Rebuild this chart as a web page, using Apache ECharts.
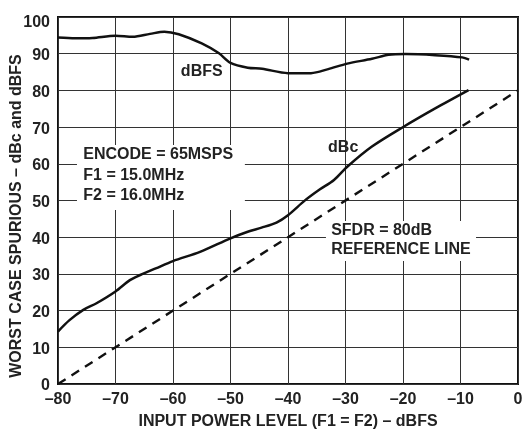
<!DOCTYPE html>
<html>
<head>
<meta charset="utf-8">
<script src="https://cdn.jsdelivr.net/npm/echarts@6/dist/echarts.min.js"></script>
<style>html,body{margin:0;padding:0;background:#fff}#c{width:524px;height:429px}</style>
</head>
<body>
<div id="c"></div>
<script>
var dbfsX = [-80, -77, -74, -70, -67, -64, -61.5, -59, -55, -52, -50, -47, -44.5, -40, -36, -33, -29.7, -25.4, -22.5, -19.6, -14.4, -9.7, -8.5];
var dbfsY = [94.4, 94.2, 94.3, 94.9, 94.6, 95.4, 96.0, 95.3, 92.8, 90.1, 87.5, 86.2, 85.9, 84.7, 84.7, 85.8, 87.3, 88.6, 89.7, 89.9, 89.6, 89.0, 88.4];
var dbcX = [-80, -78, -75.6, -73.3, -70, -67.5, -65.7, -63, -60, -55.3, -50, -47, -44.6, -42, -40, -37, -34.5, -32, -29.7, -25.4, -19.9, -14.4, -8.6];
var dbcY = [14.3, 17.4, 20.2, 22.0, 25.2, 28.3, 29.7, 31.5, 33.5, 36.0, 39.7, 41.5, 42.6, 44.0, 46.0, 50.1, 53.0, 55.6, 59.2, 64.7, 70.1, 75.1, 80.1];
var refX = [-80, 0];
var refY = [0, 80];
var xTicks = [-80, -70, -60, -50, -40, -30, -20, -10, 0];
var yTicks = [0, 10, 20, 30, 40, 50, 60, 70, 80, 90, 100];

function pairs(xs, ys) { return xs.map(function (x, i) { return [x, ys[i]]; }); }
var FONT = '"Liberation Sans", Arial, sans-serif';
var FS = 16;
var chart = echarts.init(document.getElementById('c'));
var option = {
  animation: false,
  grid: { left: 58, right: 6, top: 17, bottom: 45, show: true, borderColor: '#111', borderWidth: 2, backgroundColor: 'transparent', outerBoundsMode: 'none', containLabel: false },
  xAxis: {
    type: 'value', min: -80, max: 0, interval: 10,
    name: 'INPUT POWER LEVEL (F1 = F2) – dBFS', nameLocation: 'middle', nameGap: 30, nameMoveOverlap: false,
    nameTextStyle: { fontFamily: FONT, fontWeight: 'bold', fontSize: FS, color: '#222' },
    axisLine: { show: false }, axisTick: { show: false },
    axisLabel: { fontFamily: FONT, fontWeight: 'bold', fontSize: FS, color: '#222', margin: 8,
      formatter: function (v) { return String(v).replace('-', '–'); } },
    splitLine: { show: true, lineStyle: { color: '#333', width: 1 } }
  },
  yAxis: {
    type: 'value', min: 0, max: 100, interval: 10,
    name: 'WORST CASE SPURIOUS – dBc and dBFS', nameLocation: 'middle', nameGap: 33, nameMoveOverlap: false,
    nameTextStyle: { fontFamily: FONT, fontWeight: 'bold', fontSize: FS, color: '#222', padding: [0, 31, 0, 0] },
    axisLine: { show: false }, axisTick: { show: false },
    axisLabel: { fontFamily: FONT, fontWeight: 'bold', fontSize: FS, color: '#222', margin: 8, padding: [4, 0, 0, 0],
      formatter: function (v) { return v === 100 ? '{top|' + v + '}' : String(v); },
      rich: { top: { fontFamily: FONT, fontWeight: 'bold', fontSize: FS, color: '#222', padding: [7, 0, 0, 0] } } },
    splitLine: { show: true, lineStyle: { color: '#333', width: 1 } }
  },
  series: [
    { name: 'dBFS', type: 'line', data: pairs(dbfsX, dbfsY), smooth: 0.3, showSymbol: false, lineStyle: { color: '#111', width: 2.5 }, z: 5 },
    { name: 'dBc', type: 'line', data: pairs(dbcX, dbcY), smooth: 0.3, showSymbol: false, lineStyle: { color: '#111', width: 2.5 }, z: 5 },
    { name: 'ref', type: 'line', data: pairs(refX, refY), showSymbol: false, lineStyle: { color: '#111', width: 2.4, type: [9, 7] }, z: 5 }
  ]
};
chart.setOption(option);

function px(x, y) { return chart.convertToPixel({ gridIndex: 0 }, [x, y]); }
var tStyle = { fontFamily: FONT, fontWeight: 'bold', fontSize: FS, fill: '#222' };
function box(x0, y0, x1, y1) {
  var a = px(x0, y0), b = px(x1, y1);
  return { type: 'rect', shape: { x: a[0], y: a[1], width: b[0] - a[0], height: b[1] - a[1] }, style: { fill: '#fff' }, z: 3, silent: true };
}
function txt(x, y, s, align) {
  var p = px(x, y);
  return { type: 'text', x: p[0], y: p[1], style: Object.assign({ text: s, align: align || 'left', verticalAlign: 'middle' }, tStyle), z: 6, silent: true };
}
chart.setOption({
  graphic: [
    box(-76.7, 65.1, -47.5, 47.4),
    box(-33.4, 44.4, -7.3, 33.5),
    txt(-75.6, 62.5, 'ENCODE = 65MSPS'),
    txt(-75.6, 56.8, 'F1 = 15.0MHz'),
    txt(-75.6, 51.3, 'F2 = 16.0MHz'),
    txt(-32.5, 41.7, 'SFDR = 80dB'),
    txt(-32.5, 36.5, 'REFERENCE LINE'),
    txt(-55.0, 85.1, 'dBFS', 'center'),
    txt(-30.4, 64.4, 'dBc', 'center')
  ]
});
</script>
</body>
</html>
